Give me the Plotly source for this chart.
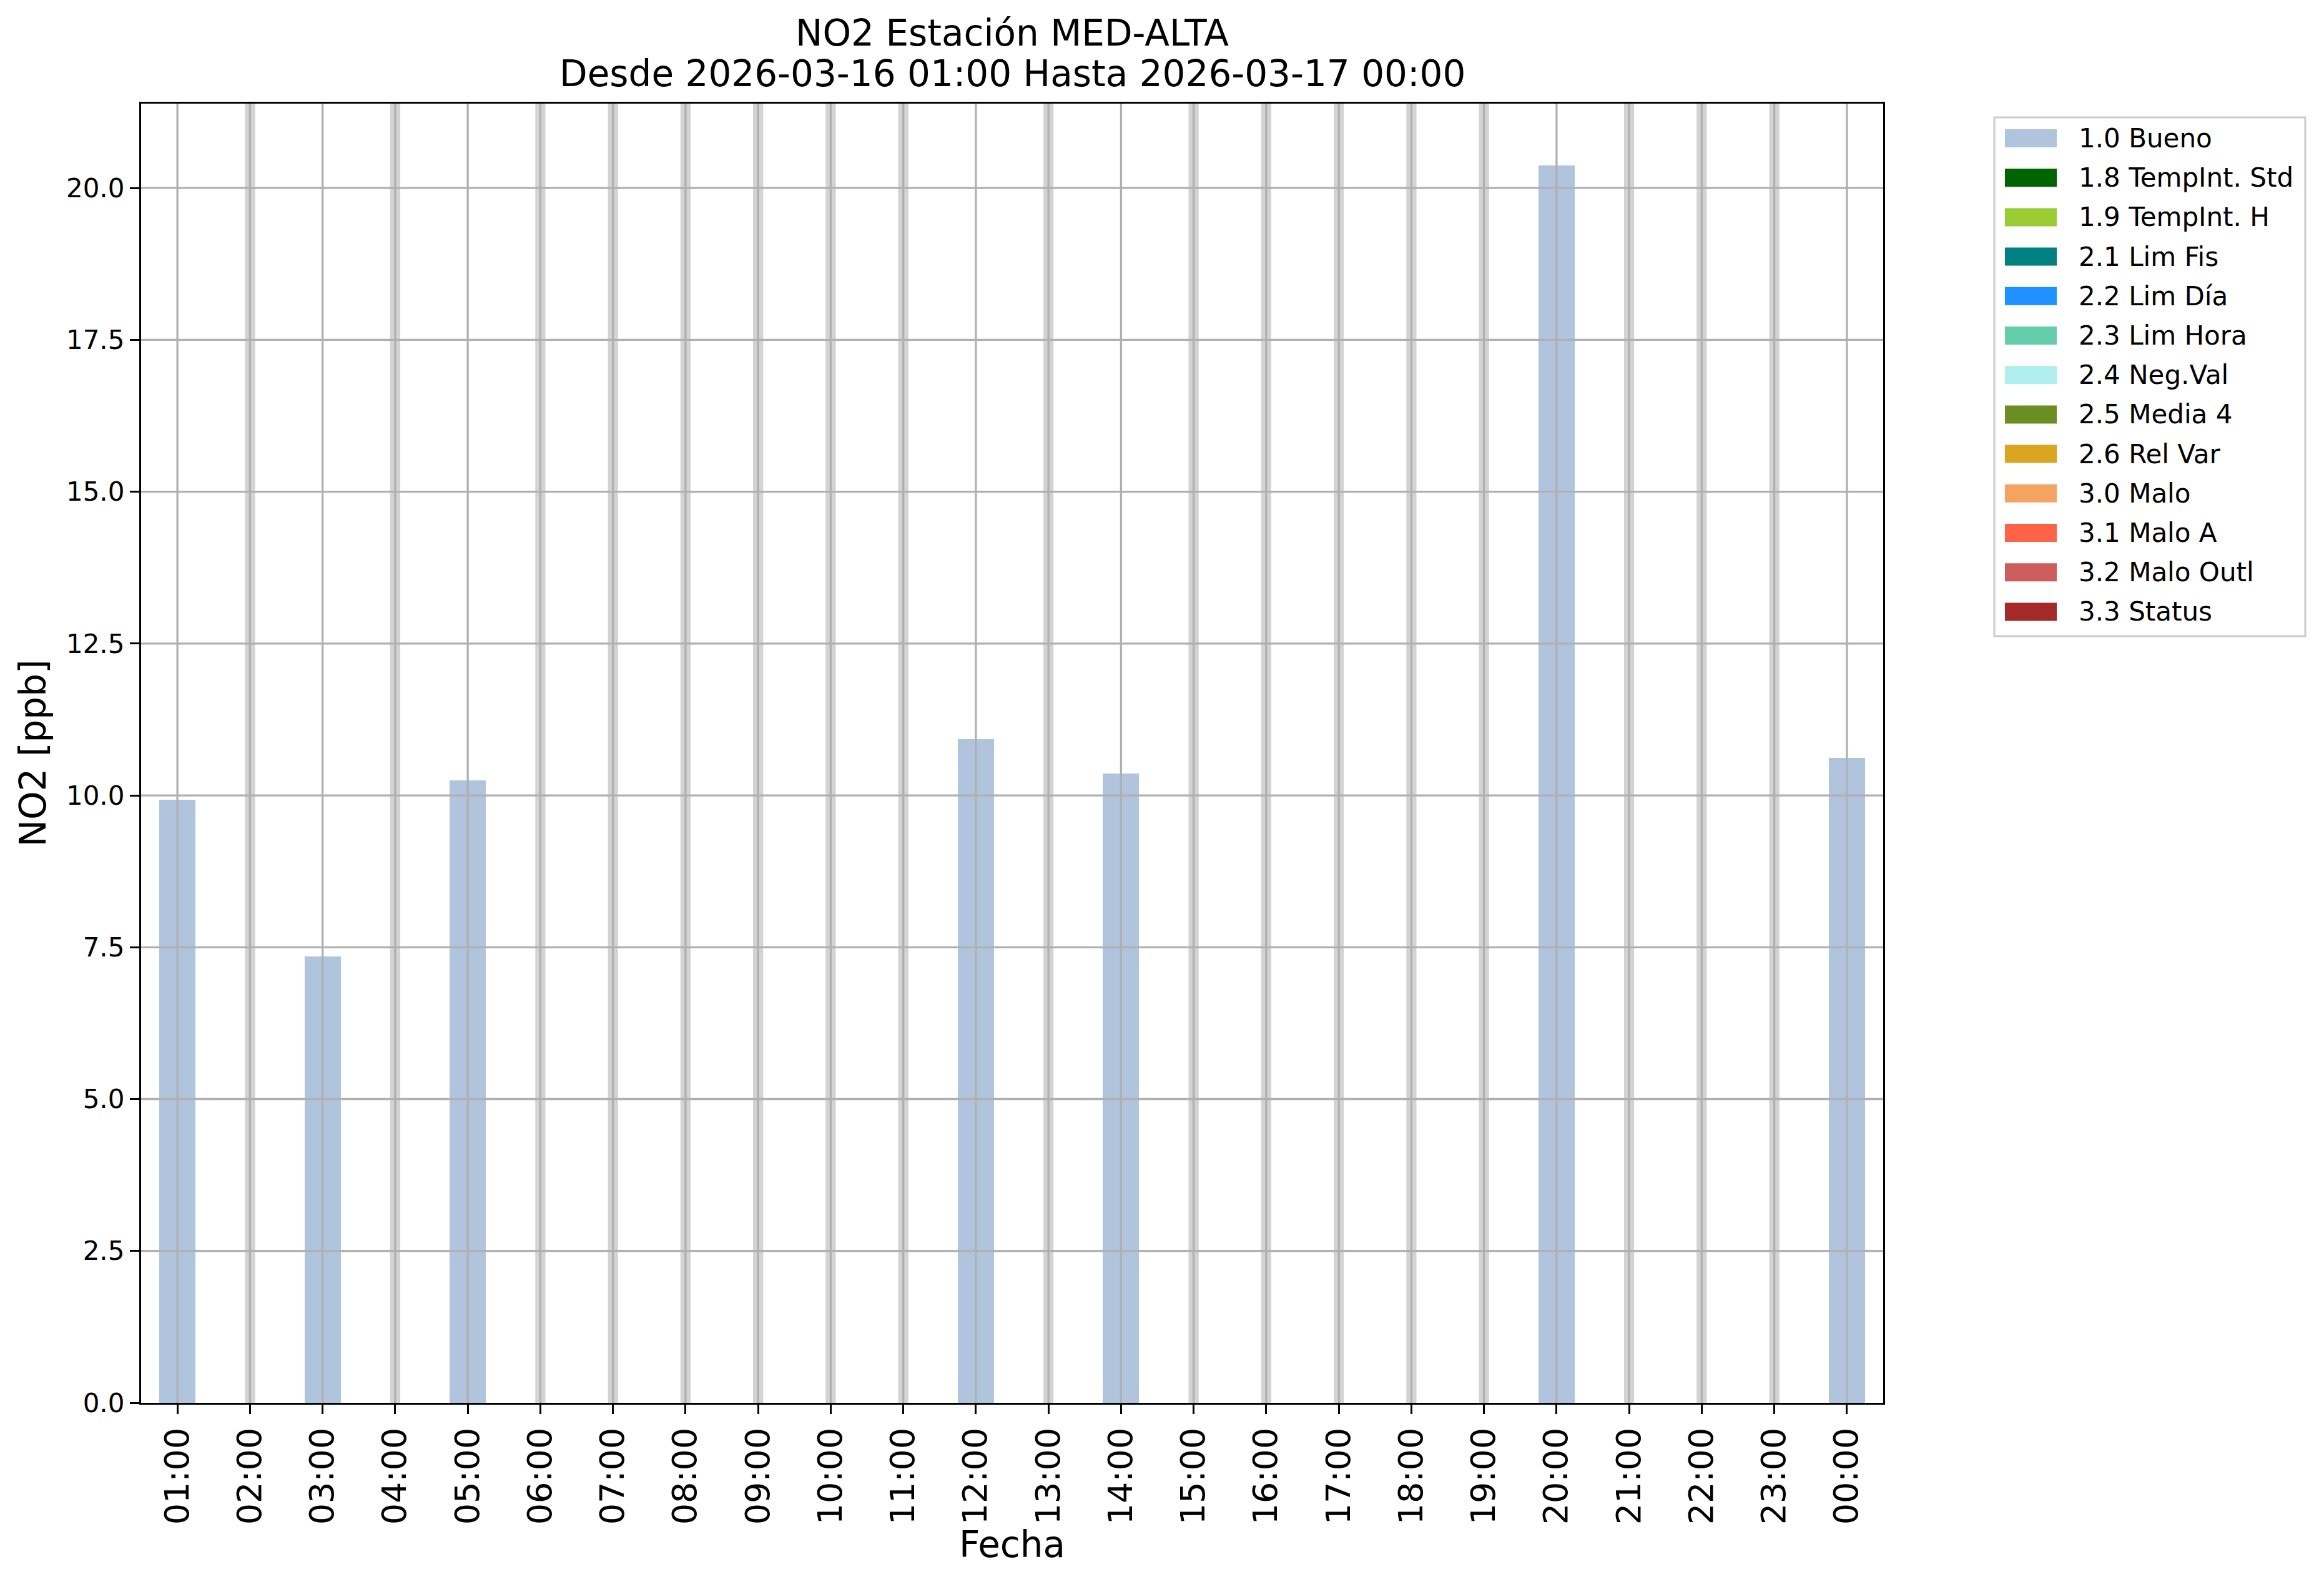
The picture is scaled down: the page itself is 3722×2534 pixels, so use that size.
import plotly.graph_objects as go

# ---------------- data ----------------
hours = ["01:00", "02:00", "03:00", "04:00", "05:00", "06:00", "07:00", "08:00",
         "09:00", "10:00", "11:00", "12:00", "13:00", "14:00", "15:00", "16:00",
         "17:00", "18:00", "19:00", "20:00", "21:00", "22:00", "23:00", "00:00"]
no2 = [9.93, None, 7.35, None, 10.25, None, None, None,
       None, None, None, 10.93, None, 10.36, None, None,
       None, None, None, 20.37, None, None, None, 10.62]
flags = ["1.0 Bueno" if v is not None else None for v in no2]

categories = ["1.0 Bueno", "1.8 TempInt. Std", "1.9 TempInt. H", "2.1 Lim Fis",
              "2.2 Lim Día", "2.3 Lim Hora", "2.4 Neg.Val", "2.5 Media 4",
              "2.6 Rel Var", "3.0 Malo", "3.1 Malo A", "3.2 Malo Outl", "3.3 Status"]
cat_colors = ["#b0c4de", "#006400", "#9acd32", "#008080", "#1e90ff", "#66cdaa",
              "#afeeee", "#6b8e23", "#daa520", "#f4a460", "#ff6347", "#cd5c5c", "#a52a2a"]
yticks = [0.0, 2.5, 5.0, 7.5, 10.0, 12.5, 15.0, 17.5, 20.0]

title1 = "NO2 Estación MED-ALTA"
title2 = "Desde 2026-03-16 01:00 Hasta 2026-03-17 00:00"
ylabel = "NO2 [ppb]"
xlabel = "Fecha"

# ---------------- layout geometry (pixels, page coordinates) ----------------
OFF = 8  # default body margin of the html page
FW, FH = 3722 - OFF, 2534 - OFF
L, R, T, B = 226 - OFF, 3016 - OFF, 166 - OFF, 2247 - OFF
PW, PH = R - L, B - T
FONT = "DejaVu Sans"
GRID = "#b0b0b0"


def px(x):
    return (x - OFF - L) / PW


def py(y):
    return (B - (y - OFF)) / PH


xs = list(range(len(hours)))
ymax = max(v for v in no2 if v is not None) * 1.05

fig = go.Figure()

for cat, col in zip(categories, cat_colors):
    yv = [v if f == cat else None for v, f in zip(no2, flags)]
    if any(v is not None for v in yv):
        fig.add_trace(go.Bar(x=xs, y=yv, width=0.5, marker=dict(color=col, line=dict(width=0)),
                             name=cat, showlegend=False))

shapes = []
# missing-data bands
for i, v in enumerate(no2):
    if v is None:
        shapes.append(dict(type="rect", xref="x", yref="paper", x0=i - 0.07, x1=i + 0.07,
                           y0=0, y1=1, fillcolor="#d3d3d3", line=dict(width=0), layer="below"))
# grid lines drawn above bars
for i in xs:
    shapes.append(dict(type="line", xref="x", yref="paper", x0=i, x1=i, y0=0, y1=1,
                       line=dict(color=GRID, width=3.3), layer="above"))
for t in yticks:
    if 0 < t < ymax:
        shapes.append(dict(type="line", xref="paper", yref="y", x0=0, x1=1, y0=t, y1=t,
                           line=dict(color=GRID, width=3.3), layer="above"))

annotations = [
    dict(text=title1, x=0.5, y=py(53.5), xref="paper", yref="paper", showarrow=False,
         xanchor="center", yanchor="middle", font=dict(family=FONT, size=58, color="black")),
    dict(text=title2, x=0.5, y=py(118), xref="paper", yref="paper", showarrow=False,
         xanchor="center", yanchor="middle", font=dict(family=FONT, size=58, color="black")),
    dict(text=xlabel, x=0.5, y=py(2474), xref="paper", yref="paper", showarrow=False,
         xanchor="center", yanchor="middle", font=dict(family=FONT, size=58, color="black")),
    dict(text=ylabel, x=px(52), y=0.5, xref="paper", yref="paper", showarrow=False,
         textangle=-90, xanchor="center", yanchor="middle",
         font=dict(family=FONT, size=58, color="black")),
]

# custom legend (matplotlib-like wide patches)
LX0, LX1, LY0, LY1 = 3194, 3692, 188, 1019
shapes.append(dict(type="rect", xref="paper", yref="paper", x0=px(LX0), x1=px(LX1),
                   y0=py(LY1), y1=py(LY0), line=dict(color="#cccccc", width=3),
                   fillcolor="white", layer="above"))
for k, (cat, col) in enumerate(zip(categories, cat_colors)):
    cy = 221.5 + 63.2 * k
    shapes.append(dict(type="rect", xref="paper", yref="paper", x0=px(3211), x1=px(3294),
                       y0=py(cy + 14.5), y1=py(cy - 14.5), fillcolor=col,
                       line=dict(width=0), layer="above"))
    annotations.append(dict(text=cat, x=px(3327), y=py(cy), xref="paper", yref="paper",
                            showarrow=False, xanchor="left", yanchor="middle",
                            font=dict(family=FONT, size=42, color="black")))

fig.update_layout(
    width=FW, height=FH,
    margin=dict(l=L, r=FW - R, t=T, b=FH - B, pad=0),
    paper_bgcolor="white", plot_bgcolor="white",
    barmode="overlay", bargap=0,
    showlegend=False,
    shapes=shapes, annotations=annotations,
    font=dict(family=FONT, color="black"),
)
fig.update_xaxes(
    range=[-0.5, len(hours) - 0.5], tickmode="array", tickvals=xs, ticktext=hours,
    tickangle=-90, tickfont=dict(family=FONT, size=54, color="black"),
    showgrid=False, zeroline=False, showline=True, mirror=True, linecolor="black",
    linewidth=3.3, ticks="outside", ticklen=15, tickwidth=3.3, tickcolor="black",
)
fig.update_yaxes(
    range=[0, ymax], tickmode="array", tickvals=yticks, tickformat=".1f",
    tickfont=dict(family=FONT, size=42, color="black"),
    showgrid=False, zeroline=False, showline=True, mirror=True, linecolor="black",
    linewidth=3.3, ticks="outside", ticklen=15, tickwidth=3.3, tickcolor="black",
)

fig.write_html("out.html")
